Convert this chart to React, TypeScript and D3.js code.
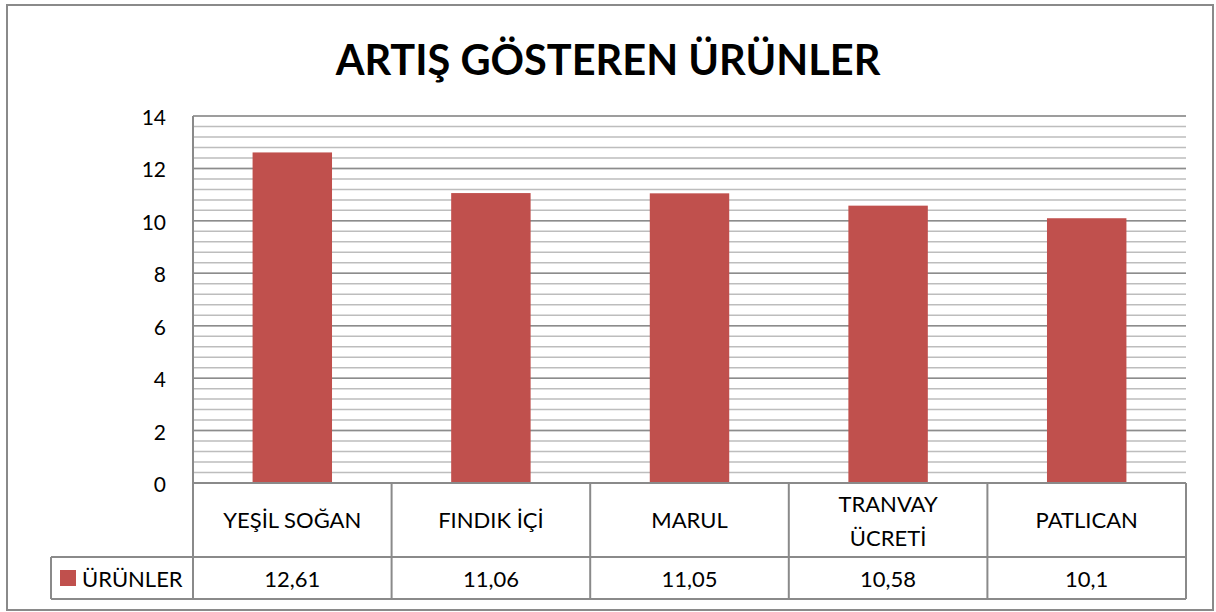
import React from "react";
import * as d3 from "d3";

const categories: string[][] = [
  ["YEŞİL SOĞAN"],
  ["FINDIK İÇİ"],
  ["MARUL"],
  ["TRANVAY", "ÜCRETİ"],
  ["PATLICAN"],
];
const values: number[] = [12.61, 11.06, 11.05, 10.58, 10.1];
const valueLabels: string[] = ["12,61", "11,06", "11,05", "10,58", "10,1"];
const seriesName = "ÜRÜNLER";
const title = "ARTIŞ GÖSTEREN ÜRÜNLER";
const majorTicks: number[] = [0, 2, 4, 6, 8, 10, 12, 14];

const W = 1216;
const H = 612;
const FONT = "Lato, 'Open Sans', sans-serif";
const BAR = "#C0504D";
const LINE = "#8a8a8a";

export default function App() {
  const left = 193;
  const right = 1186;
  const top = 116;
  const bottom = 483;
  const row1 = 557;
  const row2 = 599;
  const legendLeft = 51;

  const ids = categories.map((_, i) => String(i));
  const x = d3.scaleBand<string>().domain(ids).range([left, right]).paddingInner(0.6).paddingOuter(0.3);
  const y = d3.scaleLinear().domain([0, 14]).range([bottom, top]);
  const minor = d3.range(0, 14.0001, 0.4).map((v) => Math.round(v * 10) / 10);
  const step = x.step();
  const cellEdges = d3.range(0, categories.length + 1).map((i) => left + i * step);

  return (
    <svg width={W} height={H} style={{ position: "absolute", left: 0, top: 0, background: "#fff" }} fontFamily={FONT}>
      <rect x={0} y={0} width={W} height={H} fill="#fff" />
      <rect x={7} y={5} width={1206} height={605} fill="none" stroke={LINE} strokeWidth={2} />
      <text x={608} y={75} textAnchor="middle" fontSize={41.5} fontWeight={700} fill="#000">
        {title}
      </text>
      {/* minor gridlines */}
      {minor.map((v) => (
        <line key={"m" + v} x1={left} x2={right} y1={y(v)} y2={y(v)} stroke="#bdbdbd" strokeWidth={1.5} />
      ))}
      {/* major gridlines */}
      {majorTicks.map((v) => (
        <line key={"M" + v} x1={left} x2={right} y1={y(v)} y2={y(v)} stroke="#8c8c8c" strokeWidth={1.5} />
      ))}
      {/* y axis line */}
      <line x1={left} x2={left} y1={top} y2={row2} stroke={LINE} strokeWidth={2} />
      {majorTicks.map((v) => (
        <text key={"t" + v} x={166} y={y(v) + 9} textAnchor="end" fontSize={21} fill="#000">
          {v}
        </text>
      ))}
      {/* bars */}
      {values.map((v, i) => (
        <rect key={"b" + i} x={x(String(i))} y={y(v)} width={x.bandwidth()} height={y(0) - y(v)} fill={BAR} />
      ))}
      {/* data table */}
      <line x1={left} x2={right} y1={bottom} y2={bottom} stroke={LINE} strokeWidth={2} />
      <line x1={legendLeft} x2={right} y1={row1} y2={row1} stroke={LINE} strokeWidth={2} />
      <line x1={legendLeft} x2={right} y1={row2} y2={row2} stroke={LINE} strokeWidth={2} />
      <line x1={legendLeft} x2={legendLeft} y1={row1} y2={row2} stroke={LINE} strokeWidth={2} />
      {cellEdges.map((ex, i) => (
        <line key={"e" + i} x1={ex} x2={ex} y1={bottom} y2={row2} stroke={LINE} strokeWidth={2} />
      ))}
      {categories.map((lines, i) => {
        const cx = (x(String(i)) as number) + x.bandwidth() / 2;
        const baselines = lines.length === 1 ? [528] : [512, 546];
        return lines.map((ln, j) => (
          <text key={"c" + i + j} x={cx} y={baselines[j]} textAnchor="middle" fontSize={22} fill="#000">
            {ln}
          </text>
        ));
      })}
      {valueLabels.map((s, i) => (
        <text key={"v" + i} x={(x(String(i)) as number) + x.bandwidth() / 2} y={587} textAnchor="middle" fontSize={22} fill="#000">
          {s}
        </text>
      ))}
      <rect x={60} y={570} width={16} height={16} fill={BAR} />
      <text x={82} y={587} fontSize={22} fill="#000">
        {seriesName}
      </text>
    </svg>
  );
}
